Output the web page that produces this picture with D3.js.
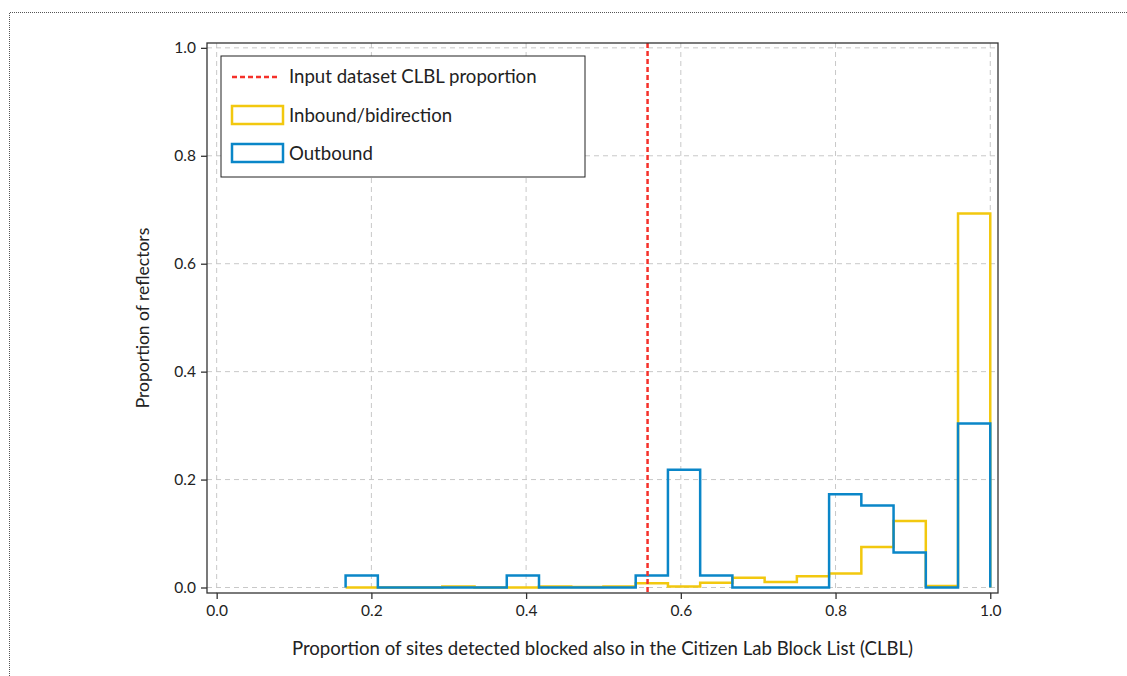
<!DOCTYPE html>
<html>
<head>
<meta charset="utf-8">
<script src="https://cdn.jsdelivr.net/npm/d3@7"></script>
<style>
  body { margin: 0; background: #fff; }
  text { font-family: Lato, "Open Sans", sans-serif; fill: #222; }
</style>
</head>
<body>
<div id="chart-area"></div>
<script>
// histogram bin edges are k/24, bins 4..23
var binStart = 4, binCount = 24;
var binIdx = [4,5,6,7,8,9,10,11,12,13,14,15,16,17,18,19,20,21,22,23];
var inbound  = [0, 0, 0, 0.002, 0, 0, 0.002, 0.001, 0.002, 0.008, 0.002, 0.009, 0.018, 0.010, 0.021, 0.026, 0.075, 0.123, 0.003, 0.693];
var outbound = [0.022, 0, 0, 0, 0, 0.022, 0, 0, 0, 0.022, 0.218, 0.022, 0, 0, 0, 0.173, 0.152, 0.065, 0, 0.304];
var clblProportion = 0.557;
var xTicks = [0, 0.2, 0.4, 0.6, 0.8, 1.0];
var yTicks = [0, 0.2, 0.4, 0.6, 0.8, 1.0];

var W = 1127, H = 676;
var margin = {top: 43, right: 129, bottom: 83, left: 207},
    width = W - margin.left - margin.right,
    height = H - margin.top - margin.bottom;

var svg0 = d3.select("#chart-area")
  .append("svg")
    .attr("width", W)
    .attr("height", H);

// dotted page frame
svg0.append("path")
  .attr("d", "M9.5,676 L9.5,12.5 L1127,12.5")
  .attr("fill", "none")
  .attr("stroke", "#555")
  .attr("stroke-width", 1)
  .attr("stroke-dasharray", "1,1");

var svg = svg0.append("g")
  .attr("transform", "translate(" + margin.left + "," + margin.top + ")");

var x = d3.scaleLinear().domain([-0.0125, 1.01]).range([0, width]);
var y = d3.scaleLinear().domain([-0.0102, 1.009]).range([height, 0]);

// grid
svg.append("g").selectAll("line.gx")
  .data(xTicks).enter().append("line")
    .attr("x1", function(d){ return x(d); })
    .attr("x2", function(d){ return x(d); })
    .attr("y1", 0).attr("y2", height)
    .attr("stroke", "#c8c8c8").attr("stroke-dasharray", "5,4");
svg.append("g").selectAll("line.gy")
  .data(yTicks).enter().append("line")
    .attr("y1", function(d){ return y(d); })
    .attr("y2", function(d){ return y(d); })
    .attr("x1", 0).attr("x2", width)
    .attr("stroke", "#c8c8c8").attr("stroke-dasharray", "5,4");

// step outlines
function stepPoints(vals) {
  var pts = [];
  binIdx.forEach(function(k, i){
    var x0 = k / binCount, x1 = (k + 1) / binCount;
    if (i === 0) pts.push([x0, 0]);
    pts.push([x0, vals[i]]);
    pts.push([x1, vals[i]]);
  });
  pts.push([(binIdx[binIdx.length-1] + 1) / binCount, 0]);
  return pts;
}
var stepLine = d3.line()
  .x(function(d){ return x(d[0]); })
  .y(function(d){ return y(d[1]); });

svg.append("path")
  .datum(stepPoints(inbound))
  .attr("d", stepLine)
  .attr("fill", "none")
  .attr("stroke", "#f2c80f")
  .attr("stroke-width", 2.5);

svg.append("path")
  .datum(stepPoints(outbound))
  .attr("d", stepLine)
  .attr("fill", "none")
  .attr("stroke", "#0a86c8")
  .attr("stroke-width", 2.5);

// CLBL proportion line
svg.append("line")
  .attr("x1", x(clblProportion)).attr("x2", x(clblProportion))
  .attr("y1", 0).attr("y2", height)
  .attr("stroke", "#f5312a")
  .attr("stroke-width", 2.5)
  .attr("stroke-dasharray", "5,3");

// frame
svg.append("rect")
  .attr("width", width).attr("height", height)
  .attr("fill", "none").attr("stroke", "#333").attr("stroke-width", 1.3);

// axes
var xAxis = svg.append("g")
  .attr("transform", "translate(0," + height + ")")
  .call(d3.axisBottom(x).tickValues(xTicks).tickFormat(d3.format(".1f")).tickSize(6).tickPadding(6));
var yAxis = svg.append("g")
  .call(d3.axisLeft(y).tickValues(yTicks).tickFormat(d3.format(".1f")).tickSize(6).tickPadding(5));
[xAxis, yAxis].forEach(function(a){
  a.select(".domain").remove();
  a.selectAll("line").attr("stroke", "#333").attr("stroke-width", 1.3);
  a.selectAll("text").attr("font-size", "15.5px").attr("fill", "#222")
    .style("font-family", "Lato, 'Open Sans', sans-serif");
});

svg.append("text")
  .attr("x", width / 2)
  .attr("y", height + 62)
  .attr("font-size", "18.6px")
  .attr("text-anchor", "middle")
  .text("Proportion of sites detected blocked also in the Citizen Lab Block List (CLBL)");

svg.append("text")
  .attr("x", -(height / 2))
  .attr("y", -58)
  .attr("font-size", "17.5px")
  .attr("text-anchor", "middle")
  .attr("transform", "rotate(-90)")
  .text("Proportion of reflectors");

// legend
var lg = svg.append("g").attr("transform", "translate(14,13)");
lg.append("rect")
  .attr("width", 364).attr("height", 121)
  .attr("fill", "#fff").attr("stroke", "#222").attr("stroke-width", 1);
lg.append("line")
  .attr("x1", 11).attr("x2", 59).attr("y1", 21).attr("y2", 21)
  .attr("stroke", "#f5312a").attr("stroke-width", 2.5).attr("stroke-dasharray", "5,3");
lg.append("rect")
  .attr("x", 11).attr("y", 50).attr("width", 51).attr("height", 18)
  .attr("fill", "none").attr("stroke", "#f2c80f").attr("stroke-width", 2.5);
lg.append("rect")
  .attr("x", 11).attr("y", 88).attr("width", 51).attr("height", 18)
  .attr("fill", "none").attr("stroke", "#0a86c8").attr("stroke-width", 2.5);
var legendLabels = ["Input dataset CLBL proportion", "Inbound/bidirection", "Outbound"];
lg.selectAll("text.lab").data(legendLabels).enter().append("text")
  .attr("x", 68)
  .attr("y", function(d, i){ return 27 + i * 38.5; })
  .attr("font-size", "18.6px")
  .text(function(d){ return d; });
</script>
</body>
</html>
